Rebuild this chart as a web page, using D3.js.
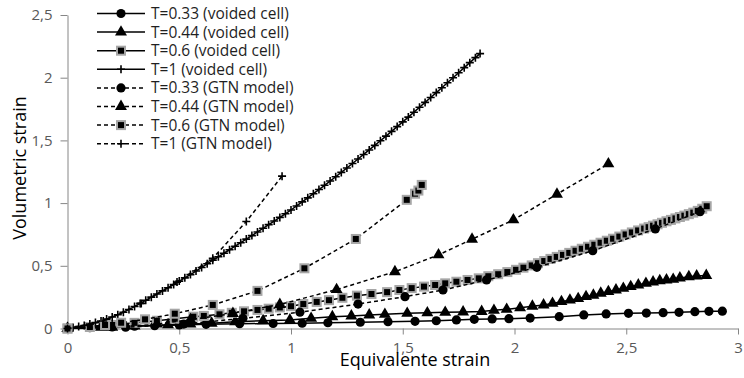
<!DOCTYPE html>
<html lang="en">
<head>
<meta charset="UTF-8">
<title>Volumetric strain vs equivalente strain</title>
<script src="https://d3js.org/d3.v7.min.js"></script>
<style>
  body { margin: 0; background: #fff; }
  text { font-family: "Open Sans", sans-serif; }
</style>
</head>
<body>
<svg width="744" height="378"></svg>
<script>
// axis ticks
const xTicks = [0, 0.5, 1, 1.5, 2, 2.5, 3];
const xTickLabels = ["0", "0,5", "1", "1,5", "2", "2,5", "3"];
const yTicks = [0, 0.5, 1, 1.5, 2, 2.5];
const yTickLabels = ["0", "0,5", "1", "1,5", "2", "2,5"];

const seriesNames = [
  "T=0.33 (voided cell)", "T=0.44 (voided cell)", "T=0.6 (voided cell)", "T=1 (voided cell)",
  "T=0.33 (GTN model)", "T=0.44 (GTN model)", "T=0.6 (GTN model)", "T=1 (GTN model)"
];

// voided cell, T=0.33
const v033X = [0, 0.1, 0.2, 0.3, 0.39, 0.5, 0.62, 0.77, 0.92, 1.05, 1.165, 1.31, 1.434, 1.555, 1.65, 1.74, 1.82, 1.9, 1.975, 2.07, 2.2, 2.31, 2.41, 2.51, 2.59, 2.665, 2.736, 2.807, 2.87, 2.93];
const v033Y = [0, 0.006, 0.012, 0.018, 0.022, 0.028, 0.033, 0.038, 0.04, 0.042, 0.046, 0.05, 0.054, 0.057, 0.062, 0.068, 0.073, 0.076, 0.078, 0.083, 0.094, 0.108, 0.116, 0.121, 0.123, 0.126, 0.129, 0.134, 0.137, 0.138];

// voided cell, T=0.44
const v044X = [0, 0.15, 0.3, 0.45, 0.55, 0.645, 0.75, 0.875, 0.995, 1.09, 1.185, 1.27, 1.35, 1.42, 1.52, 1.61, 1.69, 1.77, 1.853, 1.908, 1.965, 2.025, 2.08, 2.13, 2.17, 2.21, 2.248, 2.285, 2.32, 2.353, 2.386, 2.42, 2.454, 2.487, 2.52, 2.554, 2.588, 2.62, 2.65, 2.68, 2.71, 2.74, 2.78, 2.815, 2.858];
const v044Y = [0, 0.01, 0.02, 0.03, 0.036, 0.042, 0.054, 0.062, 0.068, 0.081, 0.094, 0.1, 0.108, 0.113, 0.121, 0.125, 0.129, 0.132, 0.136, 0.145, 0.153, 0.165, 0.178, 0.188, 0.2, 0.214, 0.227, 0.238, 0.254, 0.265, 0.281, 0.294, 0.307, 0.32, 0.334, 0.347, 0.36, 0.371, 0.381, 0.387, 0.392, 0.403, 0.413, 0.419, 0.423];

// voided cell, T=0.6
const v06X = [0, 0.1, 0.2, 0.3, 0.4, 0.48, 0.563, 0.61, 0.68, 0.735, 0.79, 0.85, 0.9, 0.95, 1.0, 1.055, 1.115, 1.17, 1.23, 1.295, 1.36, 1.43, 1.485, 1.54, 1.595, 1.645, 1.69, 1.74, 1.79, 1.84, 1.883, 1.927, 1.968, 2.007, 2.04, 2.077, 2.105, 2.133, 2.161, 2.189, 2.217, 2.245, 2.273, 2.301, 2.329, 2.357, 2.385, 2.413, 2.441, 2.469, 2.497, 2.525, 2.553, 2.58, 2.6, 2.62, 2.64, 2.66, 2.68, 2.7, 2.72, 2.74, 2.76, 2.78, 2.8, 2.82, 2.84, 2.86];
const v06Y = [0, 0.012, 0.028, 0.045, 0.062, 0.078, 0.094, 0.1, 0.113, 0.125, 0.137, 0.148, 0.158, 0.168, 0.178, 0.195, 0.212, 0.226, 0.245, 0.262, 0.275, 0.29, 0.307, 0.322, 0.334, 0.347, 0.36, 0.373, 0.387, 0.4, 0.417, 0.433, 0.45, 0.468, 0.485, 0.503, 0.521, 0.538, 0.555, 0.571, 0.587, 0.603, 0.62, 0.636, 0.652, 0.668, 0.684, 0.7, 0.716, 0.733, 0.75, 0.766, 0.782, 0.797, 0.808, 0.82, 0.831, 0.843, 0.855, 0.866, 0.878, 0.889, 0.9, 0.912, 0.924, 0.938, 0.955, 0.975];

// voided cell, T=1
const v1X = [0, 0.025, 0.05, 0.075, 0.1, 0.125, 0.15, 0.175, 0.2, 0.225, 0.25, 0.275, 0.3, 0.325, 0.35, 0.375, 0.4, 0.425, 0.45, 0.475, 0.5, 0.525, 0.55, 0.575, 0.6, 0.625, 0.65, 0.675, 0.7, 0.725, 0.75, 0.775, 0.8, 0.825, 0.85, 0.875, 0.9, 0.925, 0.95, 0.975, 1.0, 1.025, 1.05, 1.075, 1.1, 1.125, 1.15, 1.175, 1.2, 1.225, 1.25, 1.275, 1.3, 1.325, 1.35, 1.375, 1.4, 1.425, 1.45, 1.475, 1.5, 1.525, 1.55, 1.575, 1.6, 1.625, 1.65, 1.675, 1.7, 1.725, 1.75, 1.775, 1.8, 1.825, 1.846];
const v1Y = [0, 0.007, 0.015, 0.024, 0.035, 0.047, 0.06, 0.075, 0.092, 0.11, 0.13, 0.152, 0.175, 0.2, 0.225, 0.25, 0.275, 0.3, 0.325, 0.351, 0.378, 0.404, 0.43, 0.458, 0.487, 0.516, 0.545, 0.572, 0.6, 0.628, 0.656, 0.684, 0.713, 0.741, 0.77, 0.799, 0.828, 0.857, 0.886, 0.915, 0.945, 0.977, 1.01, 1.042, 1.075, 1.108, 1.142, 1.176, 1.21, 1.245, 1.28, 1.316, 1.352, 1.388, 1.424, 1.46, 1.497, 1.534, 1.572, 1.61, 1.648, 1.686, 1.725, 1.764, 1.803, 1.842, 1.881, 1.92, 1.96, 2.0, 2.04, 2.08, 2.12, 2.16, 2.192];

// GTN model
const g033X = [0, 0.26, 0.52, 0.785, 1.04, 1.3, 1.51, 1.68, 1.875, 2.1, 2.35, 2.63, 2.83];
const g033Y = [0, 0.01, 0.035, 0.081, 0.13, 0.195, 0.254, 0.307, 0.387, 0.488, 0.62, 0.794, 0.932];
const g044X = [0, 0.2, 0.4, 0.55, 0.74, 0.95, 1.204, 1.465, 1.66, 1.81, 1.995, 2.19, 2.42];
const g044Y = [0, 0.01, 0.035, 0.07, 0.12, 0.192, 0.31, 0.453, 0.587, 0.712, 0.866, 1.071, 1.313];
const g06X = [0, 0.168, 0.24, 0.347, 0.48, 0.65, 0.85, 1.06, 1.29, 1.518, 1.555, 1.57, 1.585];
const g06Y = [0, 0.028, 0.046, 0.073, 0.118, 0.188, 0.3, 0.48, 0.714, 1.026, 1.075, 1.1, 1.145];
const g1X = [0, 0.16, 0.33, 0.49, 0.65, 0.8, 0.96];
const g1Y = [0, 0.06, 0.2, 0.37, 0.56, 0.853, 1.215];

const svg = d3.select("svg");

const x = d3.scaleLinear().domain([0, 3]).range([67.5, 738]);
const y = d3.scaleLinear().domain([0, 2.5]).range([328.5, 15]);

const zip = (xs, ys) => xs.map((v, i) => [v, ys[i]]);

const series = [
  { name: seriesNames[0], pts: zip(v033X, v033Y), marker: "circle", dash: null },
  { name: seriesNames[1], pts: zip(v044X, v044Y), marker: "triangle", dash: null },
  { name: seriesNames[2], pts: zip(v06X, v06Y), marker: "square", dash: null },
  { name: seriesNames[3], pts: zip(v1X, v1Y), marker: "plus", dash: null },
  { name: seriesNames[4], pts: zip(g033X, g033Y), marker: "circle", dash: "4,3" },
  { name: seriesNames[5], pts: zip(g044X, g044Y), marker: "triangle", dash: "4,3" },
  { name: seriesNames[6], pts: zip(g06X, g06Y), marker: "square", dash: "4,3" },
  { name: seriesNames[7], pts: zip(g1X, g1Y), marker: "plus", dash: "4,3" }
];

// axes
const yAxis = d3.axisLeft(y)
  .tickValues(yTicks)
  .tickFormat((d, i) => yTickLabels[i])
  .tickSizeInner(7).tickSizeOuter(0).tickPadding(8);
const xAxis = d3.axisBottom(x)
  .tickValues(xTicks)
  .tickFormat((d, i) => xTickLabels[i])
  .tickSizeInner(6).tickSizeOuter(0).tickPadding(8);

const gy = svg.append("g").attr("transform", `translate(${x(0)},0)`).call(yAxis);
const gx = svg.append("g").attr("transform", `translate(0,${y(0)})`).call(xAxis);
[gx, gy].forEach(g => {
  g.selectAll("path, line").attr("stroke", "#868686").attr("stroke-width", 1);
  g.selectAll("text").attr("fill", "#595959").style("font-size", "15px")
    .style("font-family", '"Open Sans", sans-serif');
});

// marker drawing
function drawMarker(g, type) {
  if (type === "circle") {
    g.append("circle").attr("r", 4.6).attr("fill", "#000");
  } else if (type === "triangle") {
    g.append("path").attr("d", d3.symbol(d3.symbolTriangle, 62)()).attr("fill", "#000");
  } else if (type === "square") {
    g.append("rect").attr("x", -4).attr("y", -4).attr("width", 8).attr("height", 8)
      .attr("fill", "#000").attr("stroke", "#a6a6a6").attr("stroke-width", 2);
  } else {
    g.append("path").attr("d", "M-4,0H4M0,-4V4").attr("stroke", "#000").attr("stroke-width", 1.6);
  }
}

const line = d3.line().x(d => x(d[0])).y(d => y(d[1]));

series.forEach(s => {
  svg.append("path")
    .datum(s.pts)
    .attr("d", line)
    .attr("fill", "none")
    .attr("stroke", "#000")
    .attr("stroke-width", 1.5)
    .attr("stroke-dasharray", s.dash);
  s.pts.forEach(p => {
    const g = svg.append("g").attr("transform", `translate(${x(p[0])},${y(p[1])})`);
    drawMarker(g, s.marker);
  });
});

// legend
const legend = svg.append("g");
series.forEach((s, i) => {
  const ly = 13.5 + i * 18.6;
  legend.append("line")
    .attr("x1", 97).attr("x2", 145).attr("y1", ly).attr("y2", ly)
    .attr("stroke", "#000").attr("stroke-width", 1.5)
    .attr("stroke-dasharray", s.dash);
  const g = legend.append("g").attr("transform", `translate(121,${ly})`);
  drawMarker(g, s.marker);
  legend.append("text")
    .attr("x", 151).attr("y", ly).attr("dy", "0.35em")
    .attr("fill", "#1f1f1f").style("font-size", "15.5px")
    .text(s.name);
});

// axis titles
svg.append("text")
  .attr("x", 415).attr("y", 366)
  .attr("text-anchor", "middle")
  .attr("fill", "#000").style("font-size", "18px")
  .text("Equivalente strain");
svg.append("text")
  .attr("transform", "translate(26,168) rotate(-90)")
  .attr("text-anchor", "middle")
  .attr("fill", "#000").style("font-size", "18px")
  .text("Volumetric strain");
</script>
</body>
</html>
